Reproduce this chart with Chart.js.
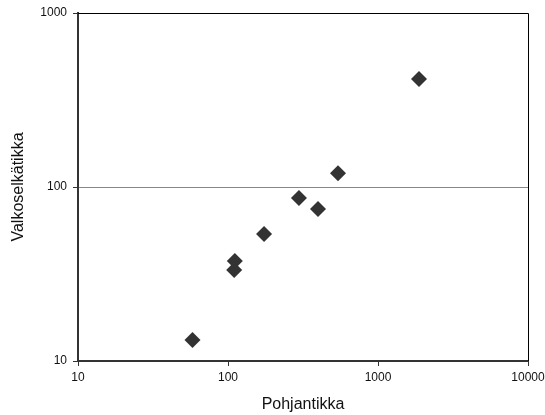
<!DOCTYPE html>
<html>
<head>
<meta charset="utf-8">
<script src="https://cdn.jsdelivr.net/npm/chart.js@4"></script>
<style>
html,body{margin:0;padding:0;background:#fff;}
#c{display:block;}
</style>
</head>
<body>
<canvas id="c" width="545" height="415"></canvas>
<script>
const pohjantikka = [58, 110, 111, 174, 297, 398, 541, 1876];
const valkoselkatikka = [13.2, 33.3, 37.6, 53.7, 86.5, 74.7, 120, 418];
const xTicks = [10, 100, 1000, 10000];
const yTicks = [10, 100, 1000];
const xTitle = 'Pohjantikka';
const yTitle = 'Valkoselkätikka';

const points = pohjantikka.map((x, i) => ({x: x, y: valkoselkatikka[i]}));
const FONT = "'Liberation Sans', Arial, sans-serif";

const framePlugin = {
  id: 'frame',
  afterDraw(chart) {
    const a = chart.chartArea, ctx = chart.ctx;
    ctx.save();
    ctx.strokeStyle = '#000';
    ctx.lineWidth = 1;
    ctx.beginPath();
    ctx.moveTo(a.left, a.top + 0.5);
    ctx.lineTo(a.right + 0.5, a.top + 0.5);
    ctx.lineTo(a.right + 0.5, a.bottom);
    ctx.stroke();
    ctx.restore();
  }
};

new Chart(document.getElementById('c'), {
  type: 'scatter',
  data: {
    datasets: [{
      data: points,
      pointStyle: 'rectRot',
      pointRadius: 8,
      pointHoverRadius: 8,
      backgroundColor: '#333333',
      borderWidth: 0
    }]
  },
  options: {
    responsive: false,
    animation: false,
    events: [],
    layout: {padding: {left: 0, right: 17, top: 13, bottom: 0}},
    plugins: {legend: {display: false}, tooltip: {enabled: false}},
    scales: {
      x: {
        type: 'logarithmic',
        min: 10, max: 10000,
        afterBuildTicks: s => { s.ticks = xTicks.map(v => ({value: v, major: true})); },
        afterFit: s => { s.height = 54; s.paddingLeft = 0; s.paddingRight = 0; },
        ticks: {
          autoSkip: false, maxRotation: 0, padding: 4,
          color: '#111', font: {family: FONT, size: 12},
          callback: v => String(v)
        },
        grid: {drawOnChartArea: false, drawTicks: true, tickLength: 5, tickColor: '#333', color: '#333'},
        border: {display: true, color: '#333', width: 2},
        title: {display: true, text: xTitle, color: '#111', font: {family: FONT, size: 16}, padding: {top: 0, bottom: 1}}
      },
      y: {
        type: 'logarithmic',
        min: 10, max: 1000,
        afterBuildTicks: s => { s.ticks = yTicks.map(v => ({value: v, major: true})); },
        afterFit: s => { s.width = 78; s.paddingTop = 0; s.paddingBottom = 0; },
        ticks: {
          autoSkip: false, padding: 6,
          color: '#111', font: {family: FONT, size: 12},
          callback: v => String(v)
        },
        grid: {drawOnChartArea: true, drawTicks: true, tickLength: 5, tickColor: '#333', color: '#888', lineWidth: 1},
        border: {display: true, color: '#333', width: 2},
        title: {display: true, text: yTitle, color: '#111', font: {family: FONT, size: 16}, padding: {top: 9, bottom: 0}}
      }
    }
  },
  plugins: [framePlugin]
});
</script>
</body>
</html>
